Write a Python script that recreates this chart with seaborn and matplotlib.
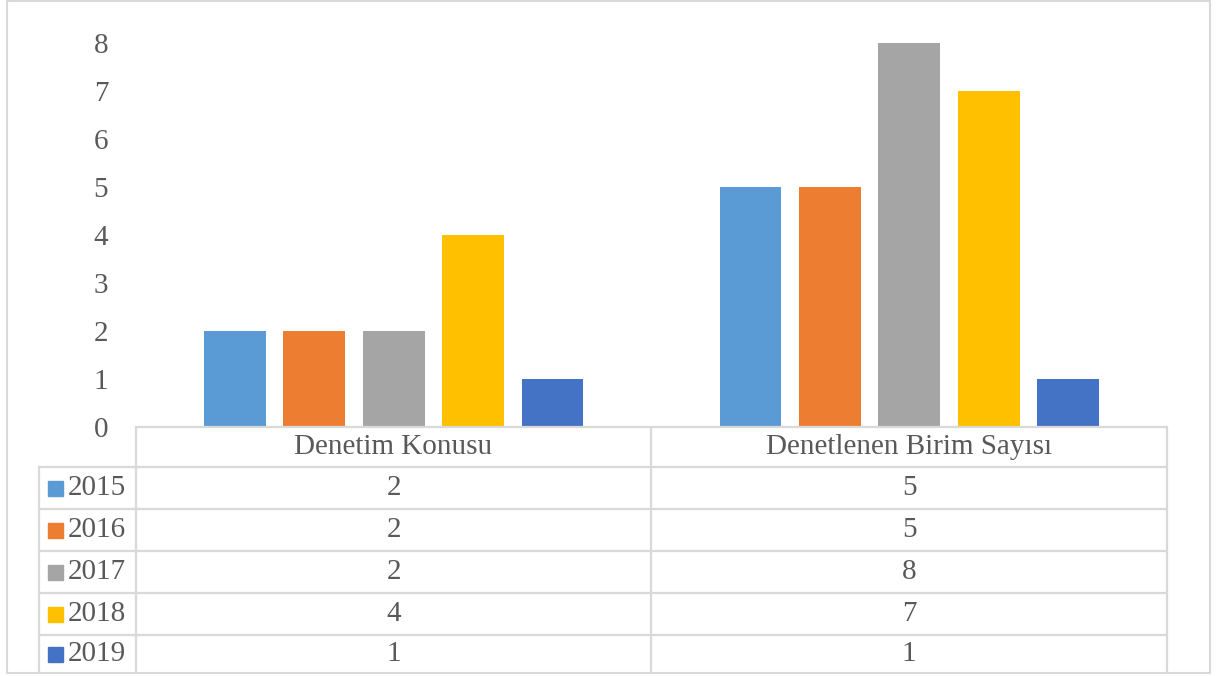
import numpy as np
import pandas as pd
import matplotlib as mpl
import matplotlib.pyplot as plt
import seaborn as sns

categories = ["Denetim Konusu", "Denetlenen Birim Sayısı"]
years = ["2015", "2016", "2017", "2018", "2019"]
values = {
    "2015": [2, 5],
    "2016": [2, 5],
    "2017": [2, 8],
    "2018": [4, 7],
    "2019": [1, 1],
}
colors = ["#5B9BD5", "#ED7D31", "#A5A5A5", "#FFC000", "#4472C4"]
yticks = [0, 1, 2, 3, 4, 5, 6, 7, 8]

rows = []
for y in years:
    for c, v in zip(categories, values[y]):
        rows.append({"kategori": c, "yil": y, "deger": v})
df = pd.DataFrame(rows)

sns.set_style("white")
plt.rcParams["font.family"] = ["Liberation Serif", "DejaVu Serif"]
txt = "#595959"
grid = "#D9D9D9"
fs = 21

W, H = 1216, 676
fig = plt.figure(figsize=(W / 100, H / 100), dpi=100)

def fx(x):
    return x / W

def fy(y):
    return 1 - y / H

# plot area
x0, x1, ytop, ybot = 136, 1167, 43, 427
ax = fig.add_axes([fx(x0), fy(ybot), fx(x1) - fx(x0), fy(ytop) - fy(ybot)])
sns.barplot(data=df, x="kategori", y="deger", hue="yil", hue_order=years,
            order=categories, palette=colors, width=0.77, gap=0.22,
            saturation=1, linewidth=0, legend=False, ax=ax)
ax.set_ylim(0, 8)
ax.set_xlim(-0.5, 1.5)
ax.set_yticks(yticks)
ax.set_yticklabels([str(t) for t in yticks])
ax.set_xticks([])
ax.set_xlabel("")
ax.set_ylabel("")
ax.tick_params(axis="y", length=0, labelsize=fs, labelcolor=txt, pad=20)
for s in ax.spines.values():
    s.set_visible(False)
ax.patch.set_alpha(0)

# data table
lw = 1.6
col_x = [x0, 651, x1]
leg_x = 39
row_y = [427, 467, 509, 551, 593, 635, 673]

def hline(xa, xb, y):
    fig.add_artist(mpl.lines.Line2D([fx(xa), fx(xb)], [fy(y), fy(y)], color=grid, lw=lw))

def vline(x, ya, yb):
    fig.add_artist(mpl.lines.Line2D([fx(x), fx(x)], [fy(ya), fy(yb)], color=grid, lw=lw))

hline(x0, x1, row_y[0])
for y in row_y[1:-1]:
    hline(leg_x, x1, y)
vline(leg_x, row_y[1], row_y[-1])
for x in col_x:
    vline(x, row_y[0], row_y[-1])

for i, c in enumerate(categories):
    cx = (col_x[i] + col_x[i + 1]) / 2
    fig.text(fx(cx), fy((row_y[0] + row_y[1]) / 2), c, ha="center", va="center",
             fontsize=fs, color=txt)

for r, (yr, col) in enumerate(zip(years, colors)):
    cy = (row_y[r + 1] + row_y[r + 2]) / 2
    fig.add_artist(mpl.patches.Rectangle((fx(48), fy(cy + 7.5)), fx(15), 15 / H,
                                         color=col, transform=fig.transFigure))
    fig.text(fx(68), fy(cy), yr, ha="left", va="center", fontsize=fs, color=txt)
    for i in range(len(categories)):
        cx = (col_x[i] + col_x[i + 1]) / 2
        fig.text(fx(cx), fy(cy), str(values[yr][i]), ha="center", va="center",
                 fontsize=fs, color=txt)

# outer border
fig.add_artist(mpl.patches.Rectangle((fx(7), fy(673)), fx(1203), 672 / H, fill=False,
                                     edgecolor=grid, lw=1.5, transform=fig.transFigure))

fig.savefig("out.png", dpi=100)
